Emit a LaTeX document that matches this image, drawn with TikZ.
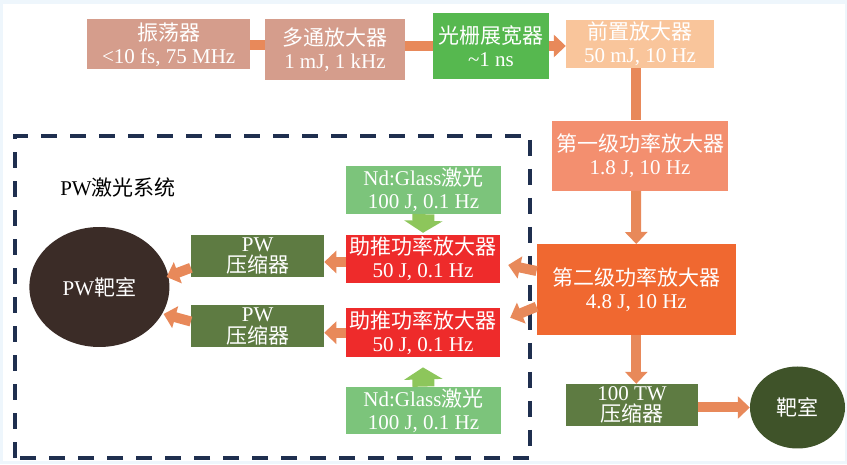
\documentclass[tikz,border=0pt]{standalone}
\usepackage{fontspec}
\setmainfont{Liberation Serif}
\newfontfamily\cjk{Noto Sans CJK SC}
\usetikzlibrary{arrows.meta,shapes.geometric}
\definecolor{bgc}{HTML}{EEF6FC}
\definecolor{oscc}{HTML}{D59D8C}
\definecolor{strc}{HTML}{56B84F}
\definecolor{prec}{HTML}{F9C59B}
\definecolor{ampac}{HTML}{F38F6F}
\definecolor{ampbc}{HTML}{F06830}
\definecolor{arrc}{HTML}{E8895A}
\definecolor{ndc}{HTML}{7CC47B}
\definecolor{garrc}{HTML}{8DC65B}
\definecolor{boostc}{HTML}{EE2B2B}
\definecolor{compc}{HTML}{5E7B42}
\definecolor{pwtc}{HTML}{3B2C27}
\definecolor{tgtc}{HTML}{3F5329}
\definecolor{dashc}{HTML}{1F2F4F}
\tikzset{
  box/.style={rectangle, inner sep=0pt, align=center, text=white, font=\fontsize{21}{23}\selectfont},
  comp/.style={box, fill=compc, font=\fontsize{21}{21.5}\selectfont},
  chamber/.style={ellipse, inner sep=0pt, text=white, font=\fontsize{21}{23}\selectfont},
  oline/.style={draw=arrc, line width=10pt},
  oarrow/.style={oline, -{Triangle[width=22pt,length=12pt]}},
  garrow/.style={draw=garrc, line width=22pt, -{Triangle[width=38pt,length=12pt]}},
}
\begin{document}
\begin{tikzpicture}[x=1pt,y=1pt]
\useasboundingbox (0,0) rectangle (847,464);
\fill[bgc] (0,0) rectangle (847,464);
\fill[white] (3,3) rectangle (845,460);
% dashed PW system frame
\draw[dashc, line width=4pt, dash pattern=on 16pt off 13pt] (15,6) rectangle (530,328);
\node[font=\fontsize{21}{23}\selectfont] (pwlabel) at (118,277) {PW{\cjk 激光系统}};
% top row
\node[box, fill=oscc, minimum width=162.5pt, minimum height=50pt] (osc) at (168.7,419.7) {{\cjk 振荡器}\\<10 fs, 75 MHz};
\node[box, fill=oscc, minimum width=140pt, minimum height=61pt] (mp) at (335,414.5) {{\cjk 多通放大器}\\1 mJ, 1 kHz};
\node[box, fill=strc, minimum width=116pt, minimum height=66.6pt] (str) at (491,418) {{\cjk 光栅展宽器}\\\textasciitilde1 ns};
\node[box, fill=prec, minimum width=148pt, minimum height=48pt] (pre) at (640,420) {{\cjk 前置放大器}\\50 mJ, 10 Hz};
% right column
\node[box, fill=ampac, minimum width=176pt, minimum height=70pt] (amp1) at (640,308.3) {{\cjk 第一级功率放大器}\\1.8 J, 10 Hz};
\node[box, fill=ampbc, minimum width=199pt, minimum height=91pt] (amp2) at (636.3,174.3) {{\cjk 第二级功率放大器}\\4.8 J, 10 Hz};
\node[comp, minimum width=132pt, minimum height=42pt] (tw) at (632,59) {100 TW\\{\cjk 压缩器}};
\node[chamber, fill=tgtc, minimum width=95pt, minimum height=82pt] (tgt) at (797.5,56.5) {{\cjk 靶室}};
% PW system
\node[box, fill=ndc, minimum width=155pt, minimum height=48pt] (ndtop) at (423.5,274) {Nd:Glass{\cjk 激光}\\100 J, 0.1 Hz};
\node[box, fill=boostc, minimum width=154pt, minimum height=48pt] (boost1) at (423,205) {{\cjk 助推功率放大器}\\50 J, 0.1 Hz};
\node[box, fill=boostc, minimum width=154pt, minimum height=49pt] (boost2) at (423,131.3) {{\cjk 助推功率放大器}\\50 J, 0.1 Hz};
\node[box, fill=ndc, minimum width=155pt, minimum height=47pt] (ndbot) at (423.5,53.7) {Nd:Glass{\cjk 激光}\\100 J, 0.1 Hz};
\node[comp, minimum width=133pt, minimum height=42pt] (pwc1) at (257.6,208.2) {PW\\{\cjk 压缩器}};
\node[comp, minimum width=133pt, minimum height=42pt] (pwc2) at (257.6,137.5) {PW\\{\cjk 压缩器}};
\node[chamber, fill=pwtc, minimum width=140pt, minimum height=120pt] (pwt) at (99.4,177) {PW{\cjk 靶室}};
% connectors
\draw[oline] ([yshift=-1pt]osc.east) -- ([yshift=-1pt]osc.east -| mp.west);
\draw[oline] (mp.east |- str.west) -- (str.west);
\draw[oarrow] (str.east) -- (str.east -| pre.west);
\draw[oline] ([xshift=-4pt]pre.south) -- ([xshift=-4pt]amp1.north);
\draw[oarrow] ([xshift=-4pt]amp1.south) -- (amp2.north);
\draw[oarrow] (amp2.south) -- (amp2.south |- tw.north);
\draw[oarrow] (tw.east |- tgt.west) -- (tgt.west);
\draw[oarrow] ([yshift=18.7pt]amp2.west) -- ([xshift=8pt,yshift=-6pt]boost1.east);
\draw[oarrow] ([yshift=-17pt]amp2.west) -- ([xshift=10pt,yshift=15pt]boost2.east);
\draw[oarrow] ([yshift=-3pt]boost1.west) -- ([yshift=-3pt]boost1.west -| pwc1.east);
\draw[oarrow] (boost2.west) -- (boost2.west -| pwc2.east);
\draw[oarrow] ([yshift=-12pt]pwc1.west) -- ([xshift=-3pt,yshift=10pt]pwt.east);
\draw[oarrow] ([yshift=5pt]pwc2.west) -- ([xshift=-6pt,yshift=-27pt]pwt.east);
\draw[garrow] (ndtop.south) -- ([yshift=2pt]boost1.north);
\draw[garrow] (ndbot.north) -- ([yshift=-10pt]boost2.south);
\end{tikzpicture}
\end{document}
